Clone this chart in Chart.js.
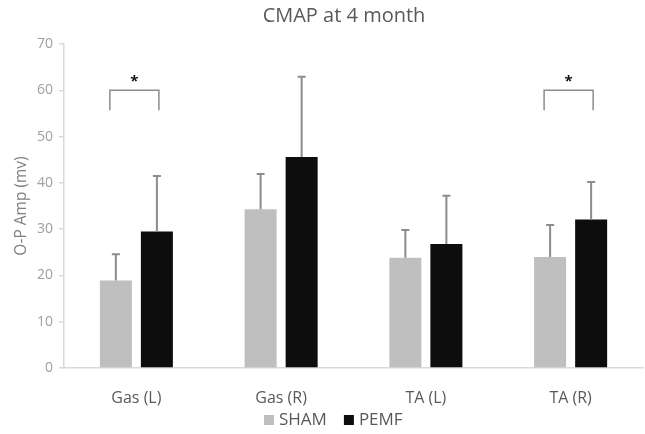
<!DOCTYPE html>
<html>
<head>
<meta charset="utf-8">
<script src="https://cdn.jsdelivr.net/npm/chart.js@4.4.0/dist/chart.umd.min.js"></script>
<style>
  html, body { margin: 0; padding: 0; background: #fff; }
  #wrap { width: 645px; height: 434px; }
</style>
</head>
<body>
<div id="wrap"><canvas id="cmapChart"></canvas></div>
<script>
// --------------- Data ---------------
const CATEGORIES = ['Gas (L)', 'Gas (R)', 'TA (L)', 'TA (R)'];
const SHAM       = [18.9, 34.3, 23.8, 24.0];
const SHAM_ERR   = [5.7, 7.6, 6.0, 6.9];
const PEMF       = [29.5, 45.6, 26.8, 32.1];
const PEMF_ERR   = [12.0, 17.3, 10.4, 8.1];
const Y_TICKS    = [0, 10, 20, 30, 40, 50, 60, 70];
// significance brackets: category index, bracket top value, leg bottom value
const SIG_CATS   = [0, 3];
const SIG_TOP    = [60, 60];
const SIG_LEG    = [55.7, 55.7];

const FONT = '"Open Sans", "DejaVu Sans", sans-serif';

// --------------- Overlay plugin: error bars, brackets, title, legend ---------------
const overlay = {
  id: 'overlay',
  afterDatasetsDraw(chart) {
    const { ctx, scales: { y } } = chart;
    const errs = [SHAM_ERR, PEMF_ERR];

    ctx.save();
    ctx.strokeStyle = '#8c8c8c';
    ctx.lineWidth   = 2;
    chart.data.datasets.forEach((ds, d) => {
      chart.getDatasetMeta(d).data.forEach((bar, i) => {
        const top = y.getPixelForValue(ds.data[i] + errs[d][i]);
        ctx.beginPath();
        ctx.moveTo(bar.x, bar.y);
        ctx.lineTo(bar.x, top);
        ctx.moveTo(bar.x - 4, top);
        ctx.lineTo(bar.x + 4, top);
        ctx.stroke();
      });
    });

    // brackets + stars
    ctx.lineWidth = 1.5;
    SIG_CATS.forEach((c, k) => {
      const x1 = chart.getDatasetMeta(0).data[c].x - 6;
      const x2 = chart.getDatasetMeta(1).data[c].x + 2;
      const yt = y.getPixelForValue(SIG_TOP[k]);
      const yl = y.getPixelForValue(SIG_LEG[k]);
      ctx.beginPath();
      ctx.moveTo(x1, yl);
      ctx.lineTo(x1, yt);
      ctx.lineTo(x2, yt);
      ctx.lineTo(x2, yl);
      ctx.stroke();
      ctx.fillStyle    = '#111';
      ctx.font         = 'bold 15px ' + FONT;
      ctx.textAlign    = 'center';
      ctx.textBaseline = 'alphabetic';
      ctx.fillText('*', (x1 + x2) / 2, yt - 4);
    });

    // title
    ctx.fillStyle    = '#595959';
    ctx.font         = '20px ' + FONT;
    ctx.textAlign    = 'center';
    ctx.textBaseline = 'middle';
    ctx.fillText('CMAP at 4 month', 344, 16);

    // legend
    ctx.font      = '17px ' + FONT;
    ctx.textAlign = 'left';
    let lx = 264;
    const ly = 420;
    chart.data.datasets.forEach(ds => {
      ctx.fillStyle = ds.backgroundColor;
      ctx.fillRect(lx, ly - 5, 10, 10);
      ctx.fillStyle = '#595959';
      ctx.fillText(ds.label, lx + 15, ly);
      lx += 15 + ctx.measureText(ds.label).width + 17;
    });
    ctx.restore();
  },
};

// --------------- Chart ---------------
new Chart(document.getElementById('cmapChart'), {
  type: 'bar',
  data: {
    labels: CATEGORIES,
    datasets: [
      { label: 'SHAM', data: SHAM, backgroundColor: '#bfbfbf' },
      { label: 'PEMF', data: PEMF, backgroundColor: '#0d0d0d' },
    ],
  },
  options: {
    responsive: true,
    maintainAspectRatio: false,
    animation: false,
    categoryPercentage: 0.567,
    barPercentage: 0.78,
    layout: { padding: { top: 44, right: 2, bottom: 0, left: 0 } },
    plugins: {
      legend:  { display: false },
      title:   { display: false },
      tooltip: { enabled: false },
    },
    scales: {
      x: {
        grid:   { display: false },
        border: { color: '#d9d9d9', width: 1.5 },
        ticks:  { color: '#595959', font: { family: FONT, size: 16 }, padding: 13 },
        afterFit: s => { s.height = 66; },
      },
      y: {
        min: 0,
        max: 70,
        afterBuildTicks: s => { s.ticks = Y_TICKS.map(v => ({ value: v })); },
        grid:   { drawOnChartArea: false, tickLength: 5, color: '#d9d9d9', lineWidth: 1.5 },
        border: { color: '#d9d9d9', width: 1.5 },
        ticks:  { color: '#a0a0a0', font: { family: FONT, size: 14 }, padding: 6 },
        title:  {
          display: true,
          text:    'O-P Amp (mv)',
          color:   '#7f7f7f',
          font:    { family: FONT, size: 15.5 },
          padding: { top: 12, bottom: 0 },
        },
        afterFit: s => { s.width = 64; },
      },
    },
  },
  plugins: [overlay],
});
</script>
</body>
</html>
